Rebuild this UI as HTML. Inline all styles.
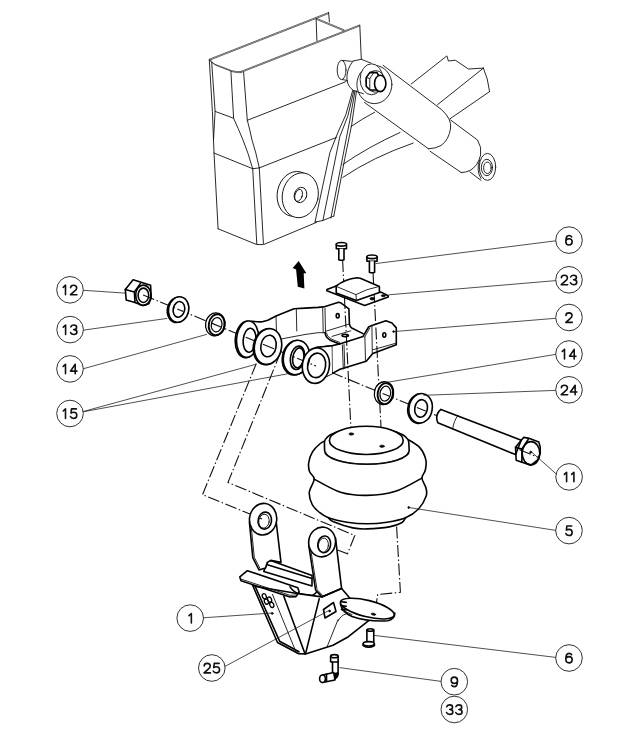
<!DOCTYPE html>
<html><head><meta charset="utf-8"><style>
html,body{margin:0;padding:0;background:#fff;}
svg{display:block;}
.l{fill:none;stroke:#111;stroke-width:0.9;stroke-linejoin:round;stroke-linecap:round;}
.l2{fill:none;stroke:#222;stroke-width:0.7;stroke-linejoin:round;stroke-linecap:round;}
.t{fill:none;stroke:#000;stroke-width:1.6;stroke-linejoin:round;stroke-linecap:round;}
.ld{fill:none;stroke:#222;stroke-width:0.8;}
.d{fill:none;stroke:#111;stroke-width:1.1;stroke-dasharray:12 2.5 1.5 2.5;}
.c{fill:#fff;stroke:#333;stroke-width:1;}
.lg{fill:none;stroke:#000;stroke-width:1.3;}
.g{fill:none;stroke:#111;stroke-width:1.6;stroke-linecap:round;stroke-linejoin:round;}
</style></head><body>
<svg width="640" height="729" viewBox="0 0 640 729">
<rect width="640" height="729" fill="#fff"/>
<path class="l2" d="M209.3,59.2 L328.6,12.5" />
<path class="l2" d="M209.3,60.3 L328.6,13.6" />
<path class="l2" d="M241.2,71.3 L359.5,25.0" />
<path class="l2" d="M241.2,72.4 L359.5,26.1" />
<path class="l2" d="M316.5,18.3 L344.0,29.8" />
<path class="l2" d="M316.5,19.4 L344.0,30.9" />
<path class="l2" d="M209.3,59.5 Q210.5,62.5 215,64.3 L231.6,70.6 Q236,72 241.2,71.6" />
<path class="l2" d="M210.8,60.2 Q212,63.5 216,65.3 L232,71.6 Q236.5,73 241.2,72.7" />
<path class="l" d="M328.6,12.5 L329.4,21.9" />
<path class="l" d="M316.1,18.8 L316.9,40.6" />
<path class="l" d="M359.8,25.3 L361.3,59.3" />
<path class="l" d="M209.3,60.0 L212.4,111.4 L213.5,140.0 L214.0,153.0 L218.1,228.8" />
<path class="l" d="M211.7,62.5 L215.1,111.4 L213.5,140.0" />
<path class="l" d="M230.9,71.2 L233.6,118.2 Q238,128 243,140 Q248,152 252.7,168.7" />
<path class="l" d="M243.6,72 L247.3,120.3 Q250,130 252,140 Q256,152 259.3,167.9" />
<path class="l" d="M215.1,111.4 L233.6,118.2" />
<path class="l" d="M247.3,120.3 L346.0,81.6" />
<path class="l" d="M214.0,153.0 L252.7,168.7" />
<path class="l" d="M259.3,167.9 L336.5,137.4" />
<path class="l" d="M252.7,168.7 L256.8,244.0" />
<path class="l" d="M259.3,167.9 L263.4,243.6" />
<path class="l" d="M218.1,228.8 L256.6,244.5 L263.5,244.6 L316.7,222.3" />
<path class="l" d="M252.7,168.7 L259.3,167.9" />
<ellipse class="l" cx="295.2" cy="193.9" rx="17.9" ry="22.6" transform="rotate(12 295.2 193.9)"/>
<ellipse class="l" cx="300.3" cy="195.3" rx="17.9" ry="22.6" transform="rotate(12 300.3 195.3)" style="fill:#fff"/>
<ellipse class="l" cx="300.5" cy="195" rx="6.2" ry="7.8" transform="rotate(18 300.5 195)"/>
<ellipse class="l" cx="298.6" cy="195.4" rx="3.6" ry="6.2" transform="rotate(18 298.6 195.4)"/>
<path class="l" d="M352.7,90.5 L345.8,114.8 L337.8,132.7 L329.9,152.6 L315.0,222.1" />
<path class="l" d="M353.9,90.5 L347.9,115.8 L339.8,136.7 L322.9,220.5" />
<path class="l" d="M355.0,91.0 L349.7,120.8 L330.9,218.0" />
<path class="l" d="M356.5,91.0 L351.7,124.7 L344.8,158.5 L333.8,216.1" />
<path class="l" d="M315.0,222.1 L322.9,220.5 L333.8,216.1" />
<path class="l" d="M411.2,84.0 L446.9,55.9 L448.4,61.0 L455.3,60.2 L468.4,69.0 L483.4,68.1" />
<path class="l" d="M483.4,68.1 Q488,78 489.6,91.6" />
<path class="l" d="M437.5,104.7 L483.4,68.1" />
<path class="l" d="M450.0,118.8 L489.6,91.6" />
<path class="l" d="M351,126.5 Q362,119 374.7,112.2" />
<path class="l" d="M342.8,164.5 Q368,147 400,132.5" />
<path class="l" d="M342.8,177.4 Q373,157 413.1,143.1" />
<path class="l" d="M383.1,65.3 L441.25,109.4 Q452,119 450.6,128 Q449,140 441,145.5 Q436,148.5 428.5,148.8" />
<path class="l" d="M364.5,102.5 L428.5,148.8" />
<path class="l" d="M450.6,120 L477.5,140 Q482,147 480.6,155 Q478,166 470,170.5 Q466,172.5 461.25,172.5" />
<path class="l" d="M430.0,151.2 L461.2,172.5" />
<ellipse class="l" cx="487.5" cy="166.9" rx="8.2" ry="13.5"/>
<path class="l" d="M479.6,160 A8.2,13.5 0 0 0 481,178.5" />
<ellipse class="l" cx="486.9" cy="167.5" rx="5.6" ry="8.2"/>
<ellipse class="l" cx="487.4" cy="167.8" rx="3.8" ry="5.8"/>
<path class="l" d="M470.0,172.0 L481.0,180.4" />
<ellipse class="l" cx="341.6" cy="70" rx="4.4" ry="9.6"/>
<path class="l" d="M342.5,60.4 L351.4,61.3" />
<path class="l" d="M342.5,79.6 L347.4,80.5" />
<path class="l" d="M353,61 Q346,70 347,80 Q348,87 353.6,90.5 L363.4,93.75" />
<path class="l" d="M353.0,61.0 L361.2,59.3 L371.0,63.1" />
<ellipse class="l" cx="374.4" cy="84.5" rx="17.5" ry="19.1"/>
<ellipse class="l" cx="371.6" cy="79.3" rx="11.5" ry="15.5" style="fill:#fff"/>
<ellipse class="l" cx="375.6" cy="81.4" rx="9.6" ry="10.8"/>
<path class="t" d="M366.2,77.6 L370,72.4 L377,72.6 L380,78 L380,86 L377,90 L370,90 L366.2,86.2 Z" style="fill:#fff"/>
<path class="l" d="M366.2,77.6 L369.8,78.5 L373.5,73.0" />
<path class="l" d="M369.8,78.5 L369.8,89.5" />
<ellipse class="t" cx="380.2" cy="83.4" rx="5.7" ry="8.2" style="fill:#fff"/>
<path d="M298.7,261 L306.4,273.3 L303.7,273.2 L304.4,288.4 L297.8,286.8 L296.1,269.6 L292.7,268.1 Z" fill="#000"/>
<path class="d" d="M143.1,295.0 L540.0,458.1" />
<path class="d" d="M342.6,260.0 L351.2,434.2" />
<path class="d" d="M373.0,272.0 L382.0,446.2" />
<path class="d" d="M256.3,363.5 L202.5,494.7 L262.0,519.0" />
<path class="d" d="M280.5,352.5 L228.0,482.4 L354.8,535.5 L347.5,553.8 L323.5,544.5" />
<path class="d" d="M396.6,526.6 L400.4,592.3 L377.7,594.5 L374.7,614.2" />
<path class="t" d="M125.3,289.4 L133.1,279.7 L150.6,285.3 L151.2,298.1 L148.8,303.8 L142.5,305.6 L135.0,302.5 L126.2,300.0 Z" fill="#fff"/>
<path class="t" d="M125.3,289.4 L134.4,291.9 L140.6,283.1" />
<path class="t" d="M134.4,291.9 L135.0,302.5" />
<ellipse class="t" cx="143.3" cy="295.3" rx="7.6" ry="10.2"/>
<ellipse class="t" cx="143.4" cy="295.3" rx="5.3" ry="7.2"/>
<path d="M167.62,307.75 A10.1,12.8 12 1 0 187.38,311.95 A10.1,12.8 12 1 0 167.62,307.75 Z M172.22,308.56 A5.7,7.9 12 1 0 183.38,310.94 A5.7,7.9 12 1 0 172.22,308.56 Z" fill="#fff" fill-rule="evenodd" stroke="none"/>
<path class="t" d="M167.62,307.75 A10.1,12.8 12 1 0 187.38,311.95 A10.1,12.8 12 1 0 167.62,307.75 Z"/>
<path d="M168.72,307.40 A10.1,12.8 12 1 0 188.48,311.60 A10.1,12.8 12 1 0 168.72,307.40 Z M173.32,308.21 A5.7,7.9 12 1 0 184.48,310.59 A5.7,7.9 12 1 0 173.32,308.21 Z" fill="#fff" fill-rule="evenodd" stroke="none"/>
<path class="t" d="M168.72,307.40 A10.1,12.8 12 1 0 188.48,311.60 A10.1,12.8 12 1 0 168.72,307.40 Z"/>
<path class="t" d="M173.32,308.21 A5.7,7.9 12 1 0 184.48,310.59 A5.7,7.9 12 1 0 173.32,308.21 Z"/>
<path d="M205.75,322.72 A9.7,11.25 10 1 0 224.85,326.08 A9.7,11.25 10 1 0 205.75,322.72 Z M211.38,323.78 A5.3,7.2 10 1 0 221.82,325.62 A5.3,7.2 10 1 0 211.38,323.78 Z" fill="#fff" fill-rule="evenodd" stroke="none"/>
<path class="t" style="stroke-width:1.3" d="M205.75,322.72 A9.7,11.25 10 1 0 224.85,326.08 A9.7,11.25 10 1 0 205.75,322.72 Z"/>
<path class="t" style="stroke-width:1.9" d="M208.92,323.35 A7.8,10.3 10 1 0 224.28,326.05 A7.8,10.3 10 1 0 208.92,323.35 Z"/>
<path class="t" style="stroke-width:1.2" d="M211.38,323.78 A5.3,7.2 10 1 0 221.82,325.62 A5.3,7.2 10 1 0 211.38,323.78 Z"/>
<path class="t" d="M239.4,330 Q241,324 245.9,322.9 Q249,321 252.5,321.25 Q258,322 262.3,321.8 L267.8,320.2 L276.6,315.8 L294,308.7 L305,308.1 L318,307.4 L323.6,306.9 L338.6,302.2 L340.5,302.7 L348.9,308.8 L349.4,323.8 Q350,327 351.75,328 L363,333.6" />
<path class="l" d="M282.0,338.8 L305.0,334.5 L318.0,332.7 L325.0,332.7" />
<path class="l" d="M276.0,316.0 L276.5,332.0" />
<path class="l" d="M296.3,309.0 L296.8,331.0" />
<path class="l" d="M322.7,308.3 L323.2,332.7" />
<path class="l" d="M325.0,308.3 L325.5,332.7" />
<path class="l" d="M325.5,331.3 L348.9,324.2" />
<path class="l" d="M332.0,336.4 L350.8,330.8" />
<ellipse class="t" cx="337.7" cy="315.8" rx="1.5" ry="2.2"/>
<ellipse class="t" cx="345.2" cy="335.5" rx="3.2" ry="1.2"/>
<path d="M235.34,338.54 A11.0,18.2 5 1 0 257.26,340.46 A11.0,18.2 5 1 0 235.34,338.54 Z M241.92,339.94 A6.4,12 5 1 0 254.68,341.06 A6.4,12 5 1 0 241.92,339.94 Z" fill="#fff" fill-rule="evenodd" stroke="none"/>
<path class="t" d="M235.34,338.54 A11.0,18.2 5 1 0 257.26,340.46 A11.0,18.2 5 1 0 235.34,338.54 Z"/>
<path d="M236.64,338.24 A11.0,18.2 5 1 0 258.56,340.16 A11.0,18.2 5 1 0 236.64,338.24 Z M243.22,339.64 A6.4,12 5 1 0 255.98,340.76 A6.4,12 5 1 0 243.22,339.64 Z" fill="#fff" fill-rule="evenodd" stroke="none"/>
<path class="t" d="M236.64,338.24 A11.0,18.2 5 1 0 258.56,340.16 A11.0,18.2 5 1 0 236.64,338.24 Z"/>
<path class="t" d="M243.22,339.64 A6.4,12 5 1 0 255.98,340.76 A6.4,12 5 1 0 243.22,339.64 Z"/>
<path d="M253.61,344.51 A13.5,17.5 10 1 0 280.19,349.19 A13.5,17.5 10 1 0 253.61,344.51 Z M259.92,345.03 A7.6,10.5 10 1 0 274.88,347.67 A7.6,10.5 10 1 0 259.92,345.03 Z" fill="#fff" fill-rule="evenodd" stroke="none"/>
<path class="t" d="M253.61,344.51 A13.5,17.5 10 1 0 280.19,349.19 A13.5,17.5 10 1 0 253.61,344.51 Z"/>
<path d="M254.71,344.16 A13.5,17.5 10 1 0 281.29,348.84 A13.5,17.5 10 1 0 254.71,344.16 Z M261.02,344.68 A7.6,10.5 10 1 0 275.98,347.32 A7.6,10.5 10 1 0 261.02,344.68 Z" fill="#fff" fill-rule="evenodd" stroke="none"/>
<path class="t" d="M254.71,344.16 A13.5,17.5 10 1 0 281.29,348.84 A13.5,17.5 10 1 0 254.71,344.16 Z"/>
<path class="t" d="M261.02,344.68 A7.6,10.5 10 1 0 275.98,347.32 A7.6,10.5 10 1 0 261.02,344.68 Z"/>
<path class="t" d="M325,332.7 Q325.5,336 327,337.5 Q330,340.5 332,341.1 L339.6,343.9 L363,336.4 L368.6,327 L370.5,326.1 L385.9,320.8 L392,323 L396.3,327.9 L396.3,344.8 L372.8,353.6 L366.25,361.25 L340,369.2 L332,373.6 L326.5,376.3" />
<path class="l" d="M326.6,333 Q327,335.5 328.5,336.8 Q331,339 333,339.8 L339.8,342.4" />
<path class="l" d="M364.6,337.2 L369.8,328.0" />
<path class="l" d="M372.8,349.8 L396.0,343.2" />
<path class="t" d="M316.0,347.5 L332.0,345.8 L339.6,343.9" />
<path class="l" d="M332.0,346.0 L332.3,373.4" />
<path class="l" d="M342.4,345.0 L343.3,369.0" />
<path class="l" d="M344.0,344.5 L344.8,368.5" />
<path class="l" d="M364.9,337.0 L365.5,361.5" />
<path class="l" d="M371.9,326.0 L372.3,353.6" />
<ellipse class="t" cx="384.3" cy="335" rx="1.5" ry="2.2"/>
<path d="M282.60,355.59 A13,17 10 1 0 308.20,360.11 A13,17 10 1 0 282.60,355.59 Z M289.51,356.93 A7,11.5 10 1 0 303.29,359.37 A7,11.5 10 1 0 289.51,356.93 Z" fill="#fff" fill-rule="evenodd" stroke="none"/>
<path class="t" d="M282.60,355.59 A13,17 10 1 0 308.20,360.11 A13,17 10 1 0 282.60,355.59 Z"/>
<path d="M283.70,355.24 A13,17 10 1 0 309.30,359.76 A13,17 10 1 0 283.70,355.24 Z M290.61,356.58 A7,11.5 10 1 0 304.39,359.02 A7,11.5 10 1 0 290.61,356.58 Z" fill="#fff" fill-rule="evenodd" stroke="none"/>
<path class="t" d="M283.70,355.24 A13,17 10 1 0 309.30,359.76 A13,17 10 1 0 283.70,355.24 Z"/>
<path class="t" d="M290.61,356.58 A7,11.5 10 1 0 304.39,359.02 A7,11.5 10 1 0 290.61,356.58 Z"/>
<ellipse class="t" cx="298.3" cy="357.8" rx="5.5" ry="10" transform="rotate(10 298.3 357.8)"/>
<path class="l" d="M316,347.5 L331.25,346 L332,373.6 L326.5,376.3 L316,383 Z" style="fill:#fff;stroke:none"/>
<path class="t" d="M316.0,347.5 L332.0,345.8" />
<path d="M302.53,363.72 A13.5,17.8 8 1 0 329.27,367.48 A13.5,17.8 8 1 0 302.53,363.72 Z M307.69,364.15 A9.0,12.0 8 1 0 325.51,366.65 A9.0,12.0 8 1 0 307.69,364.15 Z" fill="#fff" fill-rule="evenodd" stroke="none"/>
<path class="t" d="M302.53,363.72 A13.5,17.8 8 1 0 329.27,367.48 A13.5,17.8 8 1 0 302.53,363.72 Z"/>
<path class="t" d="M307.69,364.15 A9.0,12.0 8 1 0 325.51,366.65 A9.0,12.0 8 1 0 307.69,364.15 Z"/>
<path class="t" d="M326.9,289.5 L336.2,285.9 L381.6,292.4 L388.2,295.7 L388.2,297.0 L364.7,305.5 L326.9,290.8 Z" fill="#fff"/>
<path class="t" d="M336.2,286 Q345,279 357,277.7 L360.3,278.2 L379.4,286.4 L379.4,292.4 L356.5,300.4 L336.2,293 Z" style="fill:#fff"/>
<path class="l" d="M336.2,286.4 L355.9,294.6 Q366,289 379.4,286.4" />
<path class="l" d="M355.9,294.6 L356.5,300.4" />
<ellipse class="l" cx="372.3" cy="298.7" rx="2.3" ry="1.2" style="fill:#000"/>
<ellipse class="l" cx="383.3" cy="295.7" rx="2" ry="1" style="fill:#000"/>
<path class="t" d="M336.29999999999995,244.3 L336.29999999999995,248.75 L346.5,248.75 L346.5,244.3" style="fill:#fff"/>
<ellipse class="t" cx="341.4" cy="244.3" rx="5.1" ry="1.8" style="fill:#fff"/>
<path class="t" d="M338.79999999999995,248.75 L338.79999999999995,259.7 Q341.4,260.9 344.0,259.7 L344.0,248.75" style="fill:#fff"/>
<path class="t" d="M366.9,256.8 L366.9,261.25 L377.1,261.25 L377.1,256.8" style="fill:#fff"/>
<ellipse class="t" cx="372" cy="256.8" rx="5.1" ry="1.8" style="fill:#fff"/>
<path class="t" d="M369.4,261.25 L369.4,272.2 Q372,273.4 374.6,272.2 L374.6,261.25" style="fill:#fff"/>
<path class="t" d="M326.90,440.00 C325.75,440.62 322.40,441.77 320.00,443.75 C317.60,445.73 314.38,448.77 312.50,451.90 C310.62,455.02 309.25,459.23 308.75,462.50 C308.25,465.77 308.59,468.73 309.50,471.50 C310.41,474.27 314.23,475.63 314.20,479.10 C314.17,482.57 309.63,488.07 309.30,492.30 C308.97,496.53 310.58,501.22 312.20,504.50 C313.82,507.78 316.30,509.80 319.00,512.00 C321.70,514.20 323.73,516.00 328.40,517.70 C333.07,519.40 340.57,521.18 347.00,522.20 C353.43,523.22 360.33,523.80 367.00,523.80 C373.67,523.80 380.57,523.22 387.00,522.20 C393.43,521.18 400.35,519.90 405.60,517.70 C410.85,515.50 415.07,512.62 418.50,509.00 C421.93,505.38 424.98,499.58 426.20,496.00 C427.42,492.42 426.52,490.48 425.80,487.50 C425.08,484.52 421.98,480.98 421.90,478.10 C421.82,475.23 424.65,473.32 425.30,470.25 C425.95,467.18 426.72,463.47 425.80,459.70 C424.88,455.93 422.82,451.00 419.80,447.60 C416.78,444.20 409.72,440.68 407.70,439.30 Z" style="fill:#fff"/>
<path class="t" d="M314.20,479.10 C318.60,481.30 331.80,489.58 340.60,492.30 C349.40,495.02 357.85,495.57 367.00,495.40 C376.15,495.23 386.35,494.18 395.50,491.30 C404.65,488.42 417.50,480.30 421.90,478.10" />
<path class="t" d="M328.40,517.70 C329.25,518.38 329.43,520.10 333.50,521.80 C337.57,523.50 347.22,526.72 352.80,527.90 C358.38,529.08 360.90,529.07 367.00,528.90 C373.10,528.73 383.63,527.92 389.40,526.90 C395.17,525.88 398.90,524.33 401.60,522.80 C404.30,521.27 404.93,518.55 405.60,517.70" />
<path class="t" d="M324.4,442.5 A42.2,15 0 0 1 408.8,442.5 L409.2,450.5 A42.3,13.8 0 0 1 324.6,450.5 Z" style="fill:#fff"/>
<path class="l" d="M325.6,452.2 A41.6,13.2 0 0 0 408.4,452.2" />
<ellipse class="t" cx="366.3" cy="440.4" rx="36.9" ry="14.1" style="fill:#fff"/>
<ellipse class="l" cx="351.25" cy="434" rx="2.3" ry="1.1" style="fill:#000"/>
<ellipse class="l" cx="382" cy="446.25" rx="2.3" ry="1.1" style="fill:#000"/>
<path d="M374.55,391.53 A9.6,11.2 10 1 0 393.45,394.87 A9.6,11.2 10 1 0 374.55,391.53 Z M380.08,392.68 A5.3,7.5 10 1 0 390.52,394.52 A5.3,7.5 10 1 0 380.08,392.68 Z" fill="#fff" fill-rule="evenodd" stroke="none"/>
<path class="t" style="stroke-width:1.3" d="M374.55,391.53 A9.6,11.2 10 1 0 393.45,394.87 A9.6,11.2 10 1 0 374.55,391.53 Z"/>
<path class="t" style="stroke-width:1.9" d="M377.82,392.28 A7.6,10.2 10 1 0 392.78,394.92 A7.6,10.2 10 1 0 377.82,392.28 Z"/>
<path class="t" style="stroke-width:1.2" d="M380.08,392.68 A5.3,7.5 10 1 0 390.52,394.52 A5.3,7.5 10 1 0 380.08,392.68 Z"/>
<path d="M408.08,406.64 A11.6,14.4 10 1 0 430.92,410.66 A11.6,14.4 10 1 0 408.08,406.64 Z M413.80,407.66 A6.3,8.5 10 1 0 426.20,409.84 A6.3,8.5 10 1 0 413.80,407.66 Z" fill="#fff" fill-rule="evenodd" stroke="none"/>
<path class="t" d="M408.08,406.64 A11.6,14.4 10 1 0 430.92,410.66 A11.6,14.4 10 1 0 408.08,406.64 Z"/>
<path d="M409.18,406.29 A11.6,14.4 10 1 0 432.02,410.31 A11.6,14.4 10 1 0 409.18,406.29 Z M414.90,407.31 A6.3,8.5 10 1 0 427.30,409.49 A6.3,8.5 10 1 0 414.90,407.31 Z" fill="#fff" fill-rule="evenodd" stroke="none"/>
<path class="t" d="M409.18,406.29 A11.6,14.4 10 1 0 432.02,410.31 A11.6,14.4 10 1 0 409.18,406.29 Z"/>
<path class="t" d="M414.90,407.31 A6.3,8.5 10 1 0 427.30,409.49 A6.3,8.5 10 1 0 414.90,407.31 Z"/>
<path class="t" d="M440.9,409.4 L521.2,440.2 L515.5,454.6 L437.8,422.7 Q434.5,415 440.9,409.4 Z" style="fill:#fff"/>
<path class="l" d="M458.1,415.3 Q453.5,421 452.7,429" />
<path class="t" d="M515.5,447.2 L523.6,437.4 L528.2,438.1 L538.8,442.0 L540.2,446.9 L540.2,453.2 L538.0,459.5 L531.0,465.2 L521.9,462.3 L516.2,460.2 Z" fill="#fff"/>
<path class="t" d="M516.2,447.6 L521.9,449.0 L528.2,439.5" />
<path class="t" d="M521.9,449.0 L521.9,462.3" />
<ellipse class="t" cx="531" cy="453.2" rx="8.8" ry="11.6"/>
<ellipse class="l" cx="530.7" cy="452.2" rx="1" ry="1" style="fill:#000"/>
<path class="t" d="M267.25,562.4 L270.7,560.4 L312,575.5 L312,586 L263.8,571.4 Z" style="fill:#fff"/>
<path class="t" d="M266.6,564.5 L312.0,578.5" />
<path class="t" d="M249.4,522 L252.8,557.6 L259,570 L265.5,568 L267.25,562.4 L270.7,560.4 L281,562.4 L276.2,522" style="fill:#fff"/>
<path class="l" d="M251.0,524.5 L254.3,557.4 L260.0,568.5" />
<path d="M249.63,517.31 A13.6,15.8 8 1 0 276.57,521.09 A13.6,15.8 8 1 0 249.63,517.31 Z M258.17,519.67 A6.7,8.2 8 1 0 271.43,521.53 A6.7,8.2 8 1 0 258.17,519.67 Z" fill="#fff" fill-rule="evenodd" stroke="none"/>
<path class="t" d="M249.63,517.31 A13.6,15.8 8 1 0 276.57,521.09 A13.6,15.8 8 1 0 249.63,517.31 Z"/>
<path class="t" d="M258.17,519.67 A6.7,8.2 8 1 0 271.43,521.53 A6.7,8.2 8 1 0 258.17,519.67 Z"/>
<ellipse class="l" cx="264.0" cy="521.2" rx="5.2" ry="7.0" transform="rotate(8 264.0 521.2)"/>
<path class="t" d="M290,586.9 Q294,593 300.3,593.9 L312.3,595.5 Q316,594 317.5,590.3" />
<path class="t" d="M308.7,545 L315.6,590 L321.8,596.9 L341.6,588.6 L335.5,538" style="fill:#fff"/>
<path class="l" d="M310.3,547.0 L317.0,589.5 L322.5,595.5" />
<path d="M308.83,540.14 A13.4,14.8 8 1 0 335.37,543.86 A13.4,14.8 8 1 0 308.83,540.14 Z M317.86,543.51 A6.4,8.4 8 1 0 330.54,545.29 A6.4,8.4 8 1 0 317.86,543.51 Z" fill="#fff" fill-rule="evenodd" stroke="none"/>
<path class="t" d="M308.83,540.14 A13.4,14.8 8 1 0 335.37,543.86 A13.4,14.8 8 1 0 308.83,540.14 Z"/>
<path class="t" d="M317.86,543.51 A6.4,8.4 8 1 0 330.54,545.29 A6.4,8.4 8 1 0 317.86,543.51 Z"/>
<ellipse class="l" cx="323.4" cy="545.2" rx="5" ry="7.1" transform="rotate(8 323.4 545.2)"/>
<path class="t" d="M252.5,585 L277.5,642.5 L298.75,653.75 L305.5,653.9 L333,645.3 L348.4,636.7 L369,620.4 L341.6,588.6 L321.8,596.9 L300,594 L256,586.5 Z" style="fill:#fff"/>
<path class="t" d="M255.2,586.5 L279.6,641.2 L299.0,651.8" />
<path class="l" d="M272.5,594.4 L296.4,653.0" />
<path class="t" d="M283.8,596.2 L305.0,653.8" />
<path class="t" d="M319.2,598.9 L305.5,653.9" />
<path class="t" d="M321.8,596.9 L341.6,588.6" />
<path class="l" d="M338.1,619.5 L327.0,647.0" />
<path class="l" d="M338,621 Q341,615 346,614" />
<ellipse class="lg" cx="264.3" cy="596.3" rx="1.9" ry="2.7" transform="rotate(-25 264.3 596.3)"/>
<ellipse class="lg" cx="266.4" cy="601.6" rx="1.9" ry="2.7" transform="rotate(-25 266.4 601.6)"/>
<ellipse class="lg" cx="269.6" cy="599.6" rx="1.9" ry="2.7" transform="rotate(-25 269.6 599.6)"/>
<ellipse class="lg" cx="271.8" cy="604.9" rx="1.9" ry="2.7" transform="rotate(-25 271.8 604.9)"/>
<ellipse class="l" cx="272.2" cy="613.4" rx="0.9" ry="0.9" style="fill:#000"/>
<path class="t" d="M239.8,576.9 L247.4,570.7 L297.8,587.8 L299.2,592.0 L296.0,596.6 L290.0,597.0 L241.0,580.8 Z" fill="#fff"/>
<path class="l" d="M241.3,579.2 L290.0,595.3 L296.5,595.0" />
<path class="t" d="M323.5,609.5 L333.5,602.5 L336.0,611.5 L325.0,618.0 Z" fill="#fff"/>
<ellipse class="l" cx="329.5" cy="611" rx="0.9" ry="0.9" style="fill:#000"/>
<path class="t" d="M340.5,604 Q342,612 352,616.5 Q368,622 388,620.8 Q395,619 394.8,613" style="fill:#fff"/>
<ellipse class="t" cx="367.3" cy="608.6" rx="27.7" ry="8.2" transform="rotate(14 367.3 608.6)" style="fill:#fff"/>
<path class="l" d="M342.0,610.0 L352.0,614.6" />
<ellipse class="l" cx="373.4" cy="614.2" rx="2.3" ry="0.9" transform="rotate(12 373.4 614.2)" style="fill:#000"/>
<path class="t" d="M341.4,601.8 L346.2,602.4" />
<path class="t" d="M341.4,605.6 L346.2,606.2" />
<path class="t" d="M341.4,609.4 L346.2,610.0" />
<path class="t" d="M366.9,630 L366.9,642 M373.75,630 L373.75,642" />
<ellipse class="t" cx="370.3" cy="630" rx="3.4" ry="1.2"/>
<path class="t" d="M363.1,644 L363.1,645.5 Q368.7,649 374.4,645.5 L374.4,644" style="fill:#fff"/>
<ellipse class="t" cx="368.75" cy="643.8" rx="5.6" ry="2.2" style="fill:#fff"/>
<path class="t" d="M330.6,656.2 L330.6,661.5 L332.5,662.5 L332.5,675 L338.1,675 L338.1,662.5 L338.1,656.2" style="fill:#fff"/>
<ellipse class="t" cx="334.4" cy="656.2" rx="3.7" ry="1.6" style="fill:#fff"/>
<path class="t" d="M332.5,662.0 L338.1,662.0" />
<path class="t" d="M333.75,672.5 L322.5,675 L322.5,682.5 L335,680 Z" style="fill:#fff"/>
<ellipse class="t" cx="322.5" cy="678.75" rx="2.9" ry="3.8" style="fill:#fff"/>
<path class="t" d="M326.5,674.0 L326.5,681.5" />
<path d="M334,673 L338.2,672 L338.2,677 L335,680 Z" fill="#000"/>
<circle class="c" cx="70" cy="289.8" r="13.3"/>
<path class="g" transform="translate(63.20,285.20)" d="M0,2.1 L2.3,0 L2.3,9.5"/>
<path class="g" transform="translate(70.50,285.20)" d="M0.1,2.6 C0.1,1 1.4,0 3.15,0 C4.9,0 6.2,1.1 6.2,2.7 C6.2,4.1 5.3,5 4,6 L0,9.5 L6.4,9.5"/>
<circle class="c" cx="70.1" cy="329.6" r="13.3"/>
<path class="g" transform="translate(63.30,325.00)" d="M0,2.1 L2.3,0 L2.3,9.5"/>
<path class="g" transform="translate(70.60,325.00)" d="M0.2,1.8 C0.8,0.6 1.9,0 3.2,0 C4.9,0 6,1 6,2.4 C6,3.8 4.9,4.6 3.1,4.6 C5,4.6 6.3,5.6 6.3,7 C6.3,8.6 4.9,9.5 3.2,9.5 C1.7,9.5 0.5,8.8 0,7.6"/>
<circle class="c" cx="70" cy="368.9" r="13.3"/>
<path class="g" transform="translate(63.20,364.30)" d="M0,2.1 L2.3,0 L2.3,9.5"/>
<path class="g" transform="translate(70.50,364.30)" d="M4.7,9.5 L4.7,0 L0,6.8 L6.5,6.8"/>
<circle class="c" cx="70" cy="413.5" r="13.3"/>
<path class="g" transform="translate(63.20,408.90)" d="M0,2.1 L2.3,0 L2.3,9.5"/>
<path class="g" transform="translate(70.50,408.90)" d="M5.9,0 L1,0 L0.5,4.2 C1.3,3.6 2.2,3.4 3.2,3.4 C5,3.4 6.3,4.6 6.3,6.4 C6.3,8.3 4.9,9.5 3.1,9.5 C1.6,9.5 0.5,8.8 0,7.6"/>
<circle class="c" cx="569" cy="240.1" r="13.3"/>
<path class="g" transform="translate(565.85,235.50)" d="M5.8,1.3 C5.2,0.4 4.3,0 3.2,0 C1.2,0 0,2.2 0,5.2 L0,6.2 C0,8.2 1.4,9.5 3.15,9.5 C4.9,9.5 6.3,8.2 6.3,6.3 C6.3,4.4 4.9,3.2 3.2,3.2 C1.5,3.2 0.2,4.2 0,5.6"/>
<circle class="c" cx="569" cy="279.8" r="13.3"/>
<path class="g" transform="translate(561.25,275.20)" d="M0.1,2.6 C0.1,1 1.4,0 3.15,0 C4.9,0 6.2,1.1 6.2,2.7 C6.2,4.1 5.3,5 4,6 L0,9.5 L6.4,9.5"/>
<path class="g" transform="translate(570.45,275.20)" d="M0.2,1.8 C0.8,0.6 1.9,0 3.2,0 C4.9,0 6,1 6,2.4 C6,3.8 4.9,4.6 3.1,4.6 C5,4.6 6.3,5.6 6.3,7 C6.3,8.6 4.9,9.5 3.2,9.5 C1.7,9.5 0.5,8.8 0,7.6"/>
<circle class="c" cx="569" cy="317.5" r="13.3"/>
<path class="g" transform="translate(565.85,312.90)" d="M0.1,2.6 C0.1,1 1.4,0 3.15,0 C4.9,0 6.2,1.1 6.2,2.7 C6.2,4.1 5.3,5 4,6 L0,9.5 L6.4,9.5"/>
<circle class="c" cx="569" cy="354" r="13.3"/>
<path class="g" transform="translate(562.20,349.40)" d="M0,2.1 L2.3,0 L2.3,9.5"/>
<path class="g" transform="translate(569.50,349.40)" d="M4.7,9.5 L4.7,0 L0,6.8 L6.5,6.8"/>
<circle class="c" cx="569" cy="389.8" r="13.3"/>
<path class="g" transform="translate(561.25,385.20)" d="M0.1,2.6 C0.1,1 1.4,0 3.15,0 C4.9,0 6.2,1.1 6.2,2.7 C6.2,4.1 5.3,5 4,6 L0,9.5 L6.4,9.5"/>
<path class="g" transform="translate(570.45,385.20)" d="M4.7,9.5 L4.7,0 L0,6.8 L6.5,6.8"/>
<circle class="c" cx="569.1" cy="476.9" r="13.3"/>
<path class="g" transform="translate(564.30,472.30)" d="M0,2.1 L2.3,0 L2.3,9.5"/>
<path class="g" transform="translate(571.60,472.30)" d="M0,2.1 L2.3,0 L2.3,9.5"/>
<circle class="c" cx="569" cy="530.6" r="13.3"/>
<path class="g" transform="translate(565.85,526.00)" d="M5.9,0 L1,0 L0.5,4.2 C1.3,3.6 2.2,3.4 3.2,3.4 C5,3.4 6.3,4.6 6.3,6.4 C6.3,8.3 4.9,9.5 3.1,9.5 C1.6,9.5 0.5,8.8 0,7.6"/>
<circle class="c" cx="569" cy="658" r="13.3"/>
<path class="g" transform="translate(565.85,653.40)" d="M5.8,1.3 C5.2,0.4 4.3,0 3.2,0 C1.2,0 0,2.2 0,5.2 L0,6.2 C0,8.2 1.4,9.5 3.15,9.5 C4.9,9.5 6.3,8.2 6.3,6.3 C6.3,4.4 4.9,3.2 3.2,3.2 C1.5,3.2 0.2,4.2 0,5.6"/>
<circle class="c" cx="190.2" cy="618.1" r="13.3"/>
<path class="g" transform="translate(189.05,613.50)" d="M0,2.1 L2.3,0 L2.3,9.5"/>
<circle class="c" cx="211.8" cy="668" r="13.3"/>
<path class="g" transform="translate(204.05,663.40)" d="M0.1,2.6 C0.1,1 1.4,0 3.15,0 C4.9,0 6.2,1.1 6.2,2.7 C6.2,4.1 5.3,5 4,6 L0,9.5 L6.4,9.5"/>
<path class="g" transform="translate(213.25,663.40)" d="M5.9,0 L1,0 L0.5,4.2 C1.3,3.6 2.2,3.4 3.2,3.4 C5,3.4 6.3,4.6 6.3,6.4 C6.3,8.3 4.9,9.5 3.1,9.5 C1.6,9.5 0.5,8.8 0,7.6"/>
<circle class="c" cx="454.3" cy="681.7" r="13.3"/>
<path class="g" transform="translate(451.15,677.10)" d="M0.5,8.2 C1.1,9.1 2,9.5 3.1,9.5 C5.1,9.5 6.3,7.3 6.3,4.3 L6.3,3.3 C6.3,1.3 4.9,0 3.15,0 C1.4,0 0,1.3 0,3.2 C0,5.1 1.4,6.3 3.1,6.3 C4.8,6.3 6.1,5.3 6.3,3.9"/>
<circle class="c" cx="454.3" cy="709.5" r="13.3"/>
<path class="g" transform="translate(446.55,704.90)" d="M0.2,1.8 C0.8,0.6 1.9,0 3.2,0 C4.9,0 6,1 6,2.4 C6,3.8 4.9,4.6 3.1,4.6 C5,4.6 6.3,5.6 6.3,7 C6.3,8.6 4.9,9.5 3.2,9.5 C1.7,9.5 0.5,8.8 0,7.6"/>
<path class="g" transform="translate(455.75,704.90)" d="M0.2,1.8 C0.8,0.6 1.9,0 3.2,0 C4.9,0 6,1 6,2.4 C6,3.8 4.9,4.6 3.1,4.6 C5,4.6 6.3,5.6 6.3,7 C6.3,8.6 4.9,9.5 3.2,9.5 C1.7,9.5 0.5,8.8 0,7.6"/>
<path class="ld" d="M83.2,290.3 L125.0,293.1" />
<path class="ld" d="M83.1,330.2 L167.2,318.4" />
<path class="ld" d="M83.1,368.8 L207.0,334.3" />
<path class="ld" d="M83.2,411.5 L255.6,364.4" />
<path class="ld" d="M83.2,411.8 L287.5,373.8" />
<path class="ld" d="M555.9,240.8 L375.5,263.6" />
<path class="ld" d="M555.9,280.6 L388.8,294.8" />
<path class="ld" d="M555.5,318.3 L393.6,331.6" />
<path class="ld" d="M555.5,354.4 L387.8,382.2" />
<path class="ld" d="M555.5,390.4 L423.4,395.3" />
<path class="ld" d="M556.5,474.2 L531.0,451.5" />
<path class="ld" d="M555.9,530.4 L408.8,507.5" />
<path class="ld" d="M555.9,657.4 L373.5,635.3" />
<path class="ld" d="M203.3,617.8 L272.7,613.0" />
<path class="ld" d="M225.0,666.4 L328.0,611.0" />
<path class="ld" d="M441.2,681.4 L339.4,667.6" />
<ellipse class="l" cx="393.6" cy="331.6" rx="0.9" ry="0.9" style="fill:#000"/>
<ellipse class="l" cx="408.75" cy="507.5" rx="0.9" ry="0.9" style="fill:#000"/>
</svg>
</body></html>
